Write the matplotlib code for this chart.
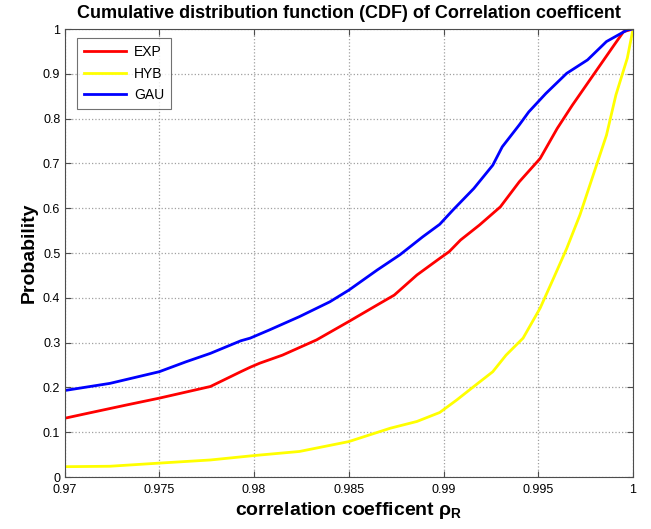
import numpy as np
import matplotlib
matplotlib.use("Agg")
import matplotlib.pyplot as plt

plt.rcParams["font.family"] = ["Liberation Sans", "DejaVu Sans"]

# CDF curves (x = correlation coefficient, y = probability)
exp_x = [0.97, 0.9712, 0.9733, 0.975, 0.9777, 0.9793, 0.9798, 0.9803, 0.9815,
         0.9833, 0.985, 0.9865, 0.9874, 0.9886, 0.9898, 0.9903, 0.9909, 0.9919,
         0.993, 0.994, 0.9951, 0.996, 0.9968, 0.9979, 0.999, 0.9995, 1.0]
exp_y = [0.131, 0.142, 0.161, 0.176, 0.202, 0.235, 0.245, 0.254, 0.272,
         0.306, 0.347, 0.384, 0.406, 0.451, 0.488, 0.503, 0.529, 0.5625,
         0.603, 0.659, 0.711, 0.778, 0.830, 0.897, 0.964, 0.994, 1.0]

hyb_x = [0.97, 0.9724, 0.975, 0.9777, 0.9798, 0.9803, 0.9824, 0.985, 0.9872,
         0.9886, 0.9898, 0.9907, 0.9916, 0.9926, 0.9933, 0.9942, 0.9951, 0.9958,
         0.9965, 0.9972, 0.9979, 0.9986, 0.9991, 0.9997, 1.0]
hyb_y = [0.023, 0.024, 0.031, 0.038, 0.047, 0.049, 0.057, 0.079, 0.109,
         0.124, 0.144, 0.172, 0.202, 0.235, 0.272, 0.310, 0.377, 0.443,
         0.510, 0.585, 0.674, 0.763, 0.853, 0.935, 1.0]

gau_x = [0.97, 0.9724, 0.975, 0.9764, 0.9777, 0.9793, 0.9798, 0.9808, 0.9824,
         0.984, 0.985, 0.9865, 0.9877, 0.9889, 0.9898, 0.9905, 0.9916, 0.9926,
         0.9931, 0.994, 0.9945, 0.9954, 0.9965, 0.9976, 0.9986, 0.9997, 1.0]
gau_y = [0.193, 0.209, 0.235, 0.257, 0.276, 0.304, 0.310, 0.328, 0.358,
         0.391, 0.417, 0.462, 0.496, 0.536, 0.564, 0.596, 0.644, 0.696,
         0.737, 0.786, 0.815, 0.856, 0.901, 0.931, 0.972, 0.998, 1.0]

xticks = [0.97, 0.975, 0.98, 0.985, 0.99, 0.995, 1.0]
xticklabels = ["0.97", "0.975", "0.98", "0.985", "0.99", "0.995", "1"]
yticks = [0, 0.1, 0.2, 0.3, 0.4, 0.5, 0.6, 0.7, 0.8, 0.9, 1.0]
yticklabels = ["0", "0.1", "0.2", "0.3", "0.4", "0.5", "0.6", "0.7", "0.8", "0.9", "1"]

fig = plt.figure(figsize=(6.51, 5.29), dpi=100)
ax = fig.add_axes([64.5 / 651, 52 / 529, 568.5 / 651, 448 / 529])

ax.plot(exp_x, exp_y, color="red", linewidth=2, label="EXP")
ax.plot(hyb_x, hyb_y, color="yellow", linewidth=2, label="HYB")
ax.plot(gau_x, gau_y, color="blue", linewidth=2, label="GAU")

ax.set_xlim(0.97, 1.0)
ax.set_ylim(0, 1)
ax.set_xticks(xticks)
ax.set_xticklabels(xticklabels)
ax.set_yticks(yticks)
ax.set_yticklabels(yticklabels)
ax.tick_params(direction="in", top=True, right=True, labelsize=9,
               color="#4d4d4d", length=4)
ax.tick_params(axis="x", pad=5)
ax.tick_params(axis="y", pad=3)
for sp in ax.spines.values():
    sp.set_color("#4d4d4d")

ax.grid(True, linestyle=":", color="#a0a0a0", linewidth=0.9)

ax.set_title("Cumulative distribution function (CDF) of Correlation coefficent",
             fontsize=13, fontweight="bold", pad=8)
ax.set_xlabel(r"correlation coefficent $\mathregular{\rho_R}$", fontsize=14,
              fontweight="bold", labelpad=3)
ax.set_ylabel("Probability", fontsize=14, fontweight="bold", labelpad=4)

leg = ax.legend(loc="upper left", fontsize=10, frameon=True, fancybox=False,
                borderpad=0.5, handlelength=3.0, handletextpad=0.6,
                labelspacing=0.55, borderaxespad=0,
                bbox_to_anchor=(0.022, 0.98))
leg.get_frame().set_edgecolor("#4d4d4d")
leg.get_frame().set_linewidth(0.8)

fig.savefig("out.png", dpi=100, facecolor="white")
